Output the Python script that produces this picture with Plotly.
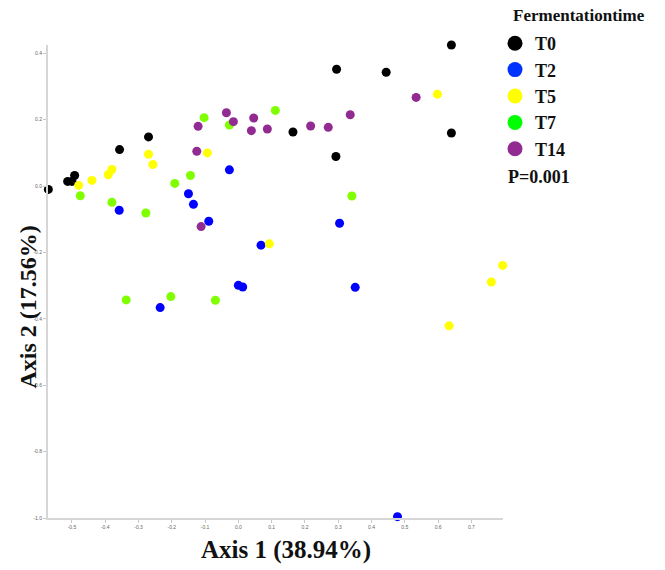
import plotly.graph_objects as go

groups = ["T0", "T2", "T5", "T7", "T14"]

t0_x = [-0.571, -0.513, -0.500, -0.492, -0.357, -0.270, 0.164, 0.295, 0.444, 0.640, 0.640, 0.293]
t0_y = [-0.010, 0.014, 0.014, 0.032, 0.110, 0.148, 0.163, 0.352, 0.343, 0.425, 0.160, 0.089]

t2_x = [-0.358, -0.150, -0.135, -0.027, -0.089, 0.068, 0.000, 0.013, -0.235, 0.304, 0.351, 0.478]
t2_y = [-0.073, -0.023, -0.055, 0.049, -0.106, -0.178, -0.299, -0.304, -0.366, -0.112, -0.305, -0.996]

t5_x = [-0.480, -0.440, -0.391, -0.380, -0.270, -0.257, -0.093, 0.598, 0.093, 0.794, 0.760, 0.633]
t5_y = [0.002, 0.017, 0.034, 0.050, 0.096, 0.065, 0.100, 0.277, -0.174, -0.239, -0.289, -0.421]

t7_x = [-0.475, -0.380, -0.278, -0.191, -0.144, -0.103, -0.027, 0.111, 0.341, -0.337, -0.203, -0.069]
t7_y = [-0.029, -0.049, -0.081, 0.008, 0.032, 0.206, 0.184, 0.228, -0.030, -0.343, -0.333, -0.344]

t14_x = [-0.121, -0.125, -0.036, -0.015, 0.046, 0.039, 0.087, 0.217, 0.270, 0.336, 0.534, -0.112]
t14_y = [0.180, 0.105, 0.221, 0.194, 0.205, 0.167, 0.172, 0.181, 0.177, 0.215, 0.267, -0.122]

point_colors = ["#000000", "#0000ff", "#ffff00", "#80ff00", "#912b91"]
legend_colors = ["#000000", "#0033ff", "#ffff00", "#00ff00", "#912b91"]

x_ticks = [-0.5, -0.4, -0.3, -0.2, -0.1, 0.0, 0.1, 0.2, 0.3, 0.4, 0.5, 0.6, 0.7]
y_ticks = [0.4, 0.2, 0.0, -0.2, -0.4, -0.6, -0.8, -1.0]

x_title = "Axis 1 (38.94%)"
y_title = "Axis 2 (17.56%)"
legend_title = "Fermentationtime"
p_text = "P=0.001"

xs = [t0_x, t2_x, t5_x, t7_x, t14_x]
ys = [t0_y, t2_y, t5_y, t7_y, t14_y]

serif = "Liberation Serif, Times New Roman, serif"
W, H = 665, 570

fig = go.Figure()
for g, x, y, c in zip(groups, xs, ys, point_colors):
    fig.add_trace(go.Scatter(x=x, y=y, mode="markers", name=g, showlegend=False,
                             marker=dict(size=9, color=c, line=dict(width=0)),
                             cliponaxis=False))
for g, c in zip(groups, legend_colors):
    fig.add_trace(go.Scatter(x=[None], y=[None], mode="markers", name="<b>" + g + "</b>",
                             marker=dict(size=15, color=c, line=dict(width=0))))

fig.update_layout(
    width=W, height=H,
    margin=dict(l=48, r=162, t=45, b=52, autoexpand=False),
    paper_bgcolor="white", plot_bgcolor="white",
    showlegend=True,
    legend=dict(
        font=dict(family=serif, size=18, color="#111"),
        x=495 / W, xanchor="left", y=1 - 25 / H, yanchor="top",
        xref="container", yref="container",
        itemsizing="trace",
        bgcolor="rgba(0,0,0,0)",
        borderwidth=0,
    ),
    xaxis=dict(range=[-0.572, 0.795], tickvals=x_ticks,
               ticktext=["%.1f" % v for v in x_ticks],
               showline=True, linecolor="#d6d6d6", linewidth=2,
               ticks="outside", ticklen=3, tickcolor="#c8c8c8", tickwidth=1,
               tickfont=dict(size=5, color="#666", family="Arial"),
               showgrid=False, zeroline=False),
    yaxis=dict(range=[-1.0, 0.425], tickvals=y_ticks,
               ticktext=["%.1f" % v for v in y_ticks],
               showline=True, linecolor="#d6d6d6", linewidth=2,
               ticks="outside", ticklen=3, tickcolor="#c8c8c8", tickwidth=1,
               tickfont=dict(size=5, color="#666", family="Arial"),
               showgrid=False, zeroline=False),
    annotations=[
        dict(text="<b>" + x_title + "</b>", xref="paper", yref="paper",
             x=0.523, y=-0.068, xanchor="center", yanchor="middle", showarrow=False,
             font=dict(family=serif, size=25, color="#111")),
        dict(text="<b>" + y_title + "</b>", xref="paper", yref="paper",
             x=-0.044, y=0.447, xanchor="center", yanchor="middle", showarrow=False,
             textangle=-90, font=dict(family=serif, size=24, color="#111")),
        dict(text="<b>" + legend_title + "</b>", xref="paper", yref="paper",
             x=(511 - 48) / 455, y=(518 - 16) / 473, xanchor="left", yanchor="middle",
             showarrow=False, font=dict(family=serif, size=17, color="#111")),
        dict(text="<b>" + p_text + "</b>", xref="paper", yref="paper",
             x=(506 - 48) / 455, y=(518 - 177) / 473, xanchor="left", yanchor="middle",
             showarrow=False, font=dict(family=serif, size=18, color="#111")),
    ],
)

fig.write_html("out.html", config={"displayModeBar": False},
               post_script="document.body.style.margin='0px';")
